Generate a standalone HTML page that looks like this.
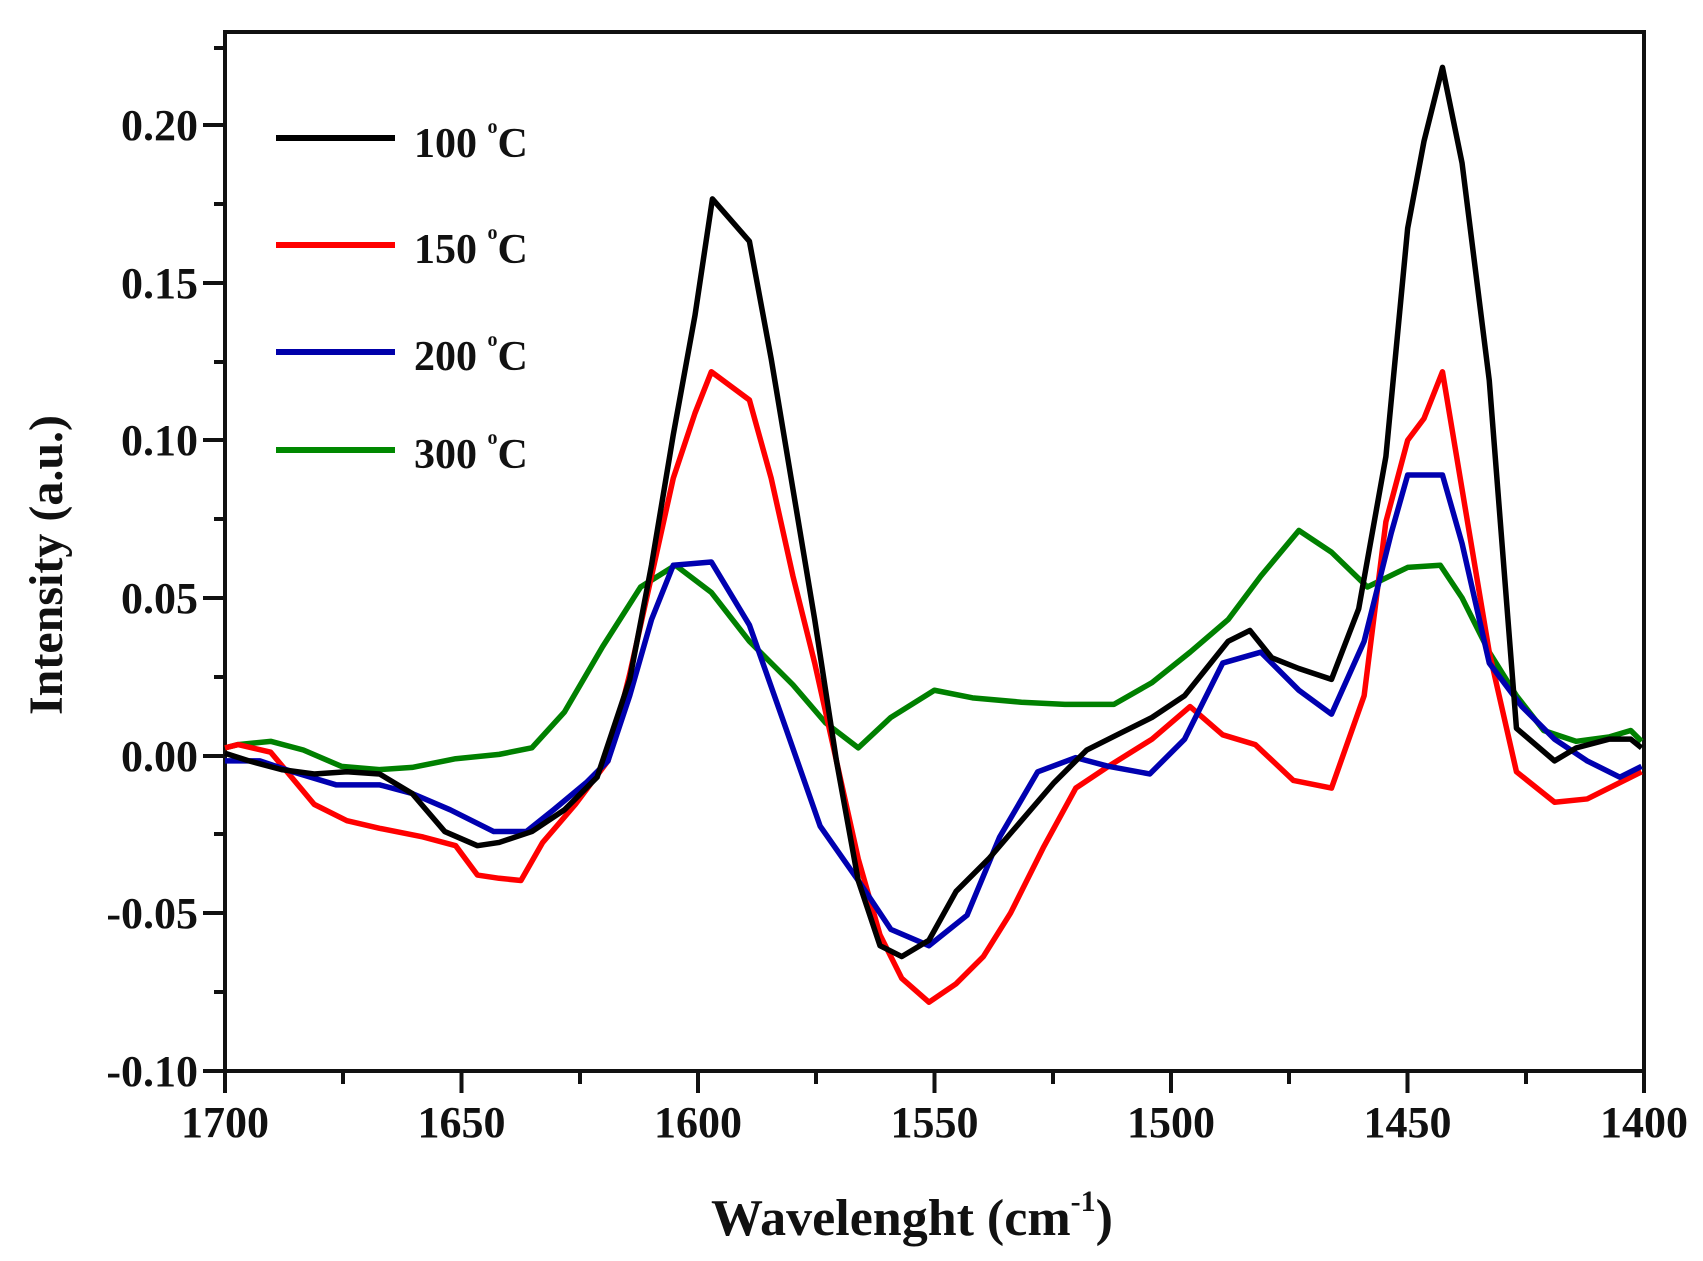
<!DOCTYPE html>
<html><head><meta charset="utf-8"><style>
html,body{margin:0;padding:0;background:#fff;}
svg{display:block;}
text{font-family:"Liberation Serif",serif;font-weight:bold;fill:#111;}
</style></head><body>
<svg width="1703" height="1261" viewBox="0 0 1703 1261" xmlns="http://www.w3.org/2000/svg">
<g stroke="#111" stroke-width="4" fill="none">
<path d="M225,32 H1644 V1071 H225 Z"/>
<!-- y ticks -->
<path d="M203,125H225 M203,283H225 M203,440H225 M203,598H225 M203,756H225 M203,913H225 M203,1071H225"/>
<path d="M214,48H225 M214,204H225 M214,362H225 M214,519H225 M214,677H225 M214,834H225 M214,992H225"/>
<!-- x ticks -->
<path d="M225,1071V1093 M461.5,1071V1093 M698,1071V1093 M934.5,1071V1093 M1171,1071V1093 M1407.5,1071V1093 M1644,1071V1093"/>
<path d="M343,1071V1084 M580,1071V1084 M816,1071V1084 M1053,1071V1084 M1289,1071V1084 M1526,1071V1084"/>
</g>
<g font-size="44" text-anchor="end">
<text x="198" y="140">0.20</text>
<text x="198" y="298">0.15</text>
<text x="198" y="455">0.10</text>
<text x="198" y="613">0.05</text>
<text x="198" y="771">0.00</text>
<text x="198" y="928">-0.05</text>
<text x="198" y="1086">-0.10</text>
</g>
<g font-size="44" text-anchor="middle">
<text x="225" y="1137">1700</text>
<text x="461.5" y="1137">1650</text>
<text x="698" y="1137">1600</text>
<text x="934.5" y="1137">1550</text>
<text x="1171" y="1137">1500</text>
<text x="1407.5" y="1137">1450</text>
<text x="1644" y="1137">1400</text>
</g>
<text x="912" y="1235" font-size="52" text-anchor="middle">Wavelenght (cm<tspan font-size="30" dy="-24">-1</tspan><tspan dy="24">)</tspan></text>
<text transform="translate(62,565) rotate(-90)" font-size="48" text-anchor="middle">Intensity (a.u.)</text>
<!-- legend -->
<g stroke-width="6">
<line x1="276" y1="138" x2="395" y2="138" stroke="#000"/>
<line x1="276" y1="245" x2="395" y2="245" stroke="#f00"/>
<line x1="276" y1="352" x2="395" y2="352" stroke="#00a"/>
<line x1="276" y1="450" x2="395" y2="450" stroke="#080"/>
</g>
<g font-size="42">
<text x="414" y="157">100 <tspan font-size="20" dy="-24">o</tspan><tspan dy="24">C</tspan></text>
<text x="414" y="263">150 <tspan font-size="20" dy="-24">o</tspan><tspan dy="24">C</tspan></text>
<text x="414" y="370">200 <tspan font-size="20" dy="-24">o</tspan><tspan dy="24">C</tspan></text>
<text x="414" y="468">300 <tspan font-size="20" dy="-24">o</tspan><tspan dy="24">C</tspan></text>
</g>
<g transform="matrix(1.088,0,0,1.087,-1.3,0)" fill="none" stroke-width="5.5" stroke-linejoin="round">
<polyline vector-effect="non-scaling-stroke" stroke="#008000" points="208,688 220,685 250,682 280,690 315,705 350,708 380,706 420,698 460,694 490,688 520,655 555,595 590,540 622,520 655,545 690,590 730,630 760,665 790,688 820,660 860,635 895,642 940,646 980,648 1025,648 1060,628 1095,600 1130,570 1160,530 1195,488 1225,508 1258,540 1295,522 1325,520 1345,550 1370,600 1395,640 1420,672 1450,682 1480,678 1500,672 1510,682"/>
<polyline vector-effect="non-scaling-stroke" stroke="#ff0000" points="208,688 220,685 250,692 290,740 320,755 350,762 390,770 420,778 440,805 460,808 480,810 500,775 530,740 560,700 580,620 600,530 620,440 640,380 655,342 690,368 710,440 730,530 750,610 770,700 790,790 810,860 830,900 855,922 880,905 905,880 930,840 960,780 990,725 1020,705 1060,680 1095,650 1125,676 1155,685 1190,718 1225,725 1255,640 1275,480 1295,405 1310,385 1327,342 1345,450 1370,600 1395,710 1430,738 1460,735 1490,720 1510,710"/>
<polyline vector-effect="non-scaling-stroke" stroke="#0000b0" points="208,700 240,700 270,710 310,722 350,722 380,730 415,745 455,765 485,765 510,745 540,720 560,700 580,640 600,570 620,520 655,517 690,575 720,660 755,760 790,810 820,855 855,870 890,842 920,770 955,710 990,697 1020,705 1058,712 1090,680 1125,610 1160,600 1195,635 1225,657 1255,590 1280,490 1295,437 1327,437 1345,500 1370,610 1400,650 1430,680 1460,700 1490,715 1510,705"/>
<polyline vector-effect="non-scaling-stroke" stroke="#000" points="208,693 230,700 260,708 290,712 320,710 350,712 380,730 410,765 440,778 460,775 490,765 520,745 550,715 580,625 600,520 620,400 640,290 656,183 690,222 710,330 730,450 750,570 770,700 790,810 810,870 830,880 855,865 880,820 910,790 940,755 970,720 1000,690 1030,675 1060,660 1090,640 1110,615 1130,590 1150,580 1170,605 1195,615 1225,625 1250,560 1275,420 1295,210 1310,130 1327,62 1345,150 1370,350 1395,670 1430,700 1450,688 1480,680 1500,680 1510,688"/>
</g>
</svg>
</body></html>
